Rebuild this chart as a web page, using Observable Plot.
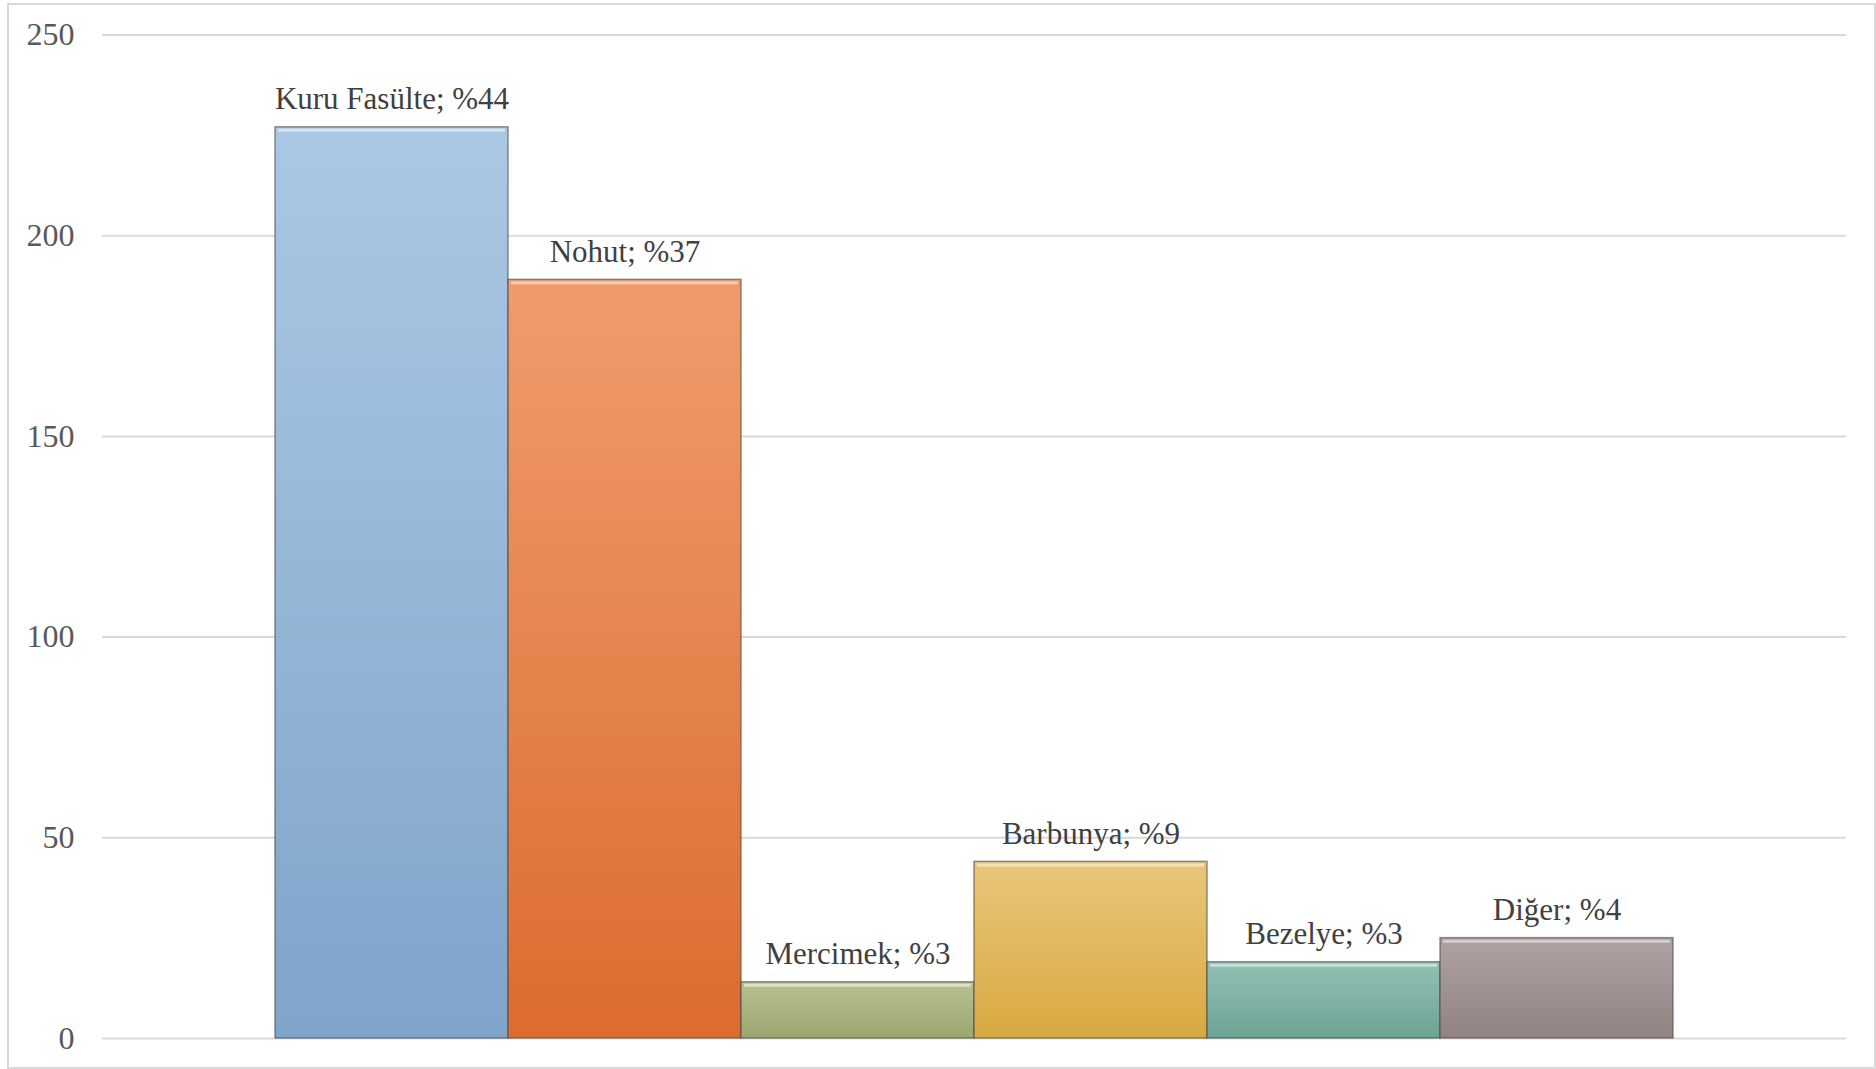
<!DOCTYPE html>
<html><head><meta charset="utf-8">
<script src="https://cdn.jsdelivr.net/npm/d3@7"></script>
<script src="https://cdn.jsdelivr.net/npm/@observablehq/plot@0.6"></script>
<style>
html,body{margin:0;padding:0;background:#fff;}
#wrap{position:relative;width:1876px;height:1069px;overflow:hidden;}
#frame{position:absolute;left:7px;top:3px;width:1869px;height:1066px;border:2px solid #d9d9d9;box-sizing:border-box;pointer-events:none}
</style></head><body><div id="wrap"><div id="chart"></div><div id="frame"></div></div>
<script>
const categories = ["Kuru Fasülte", "Nohut", "Mercimek", "Barbunya", "Bezelye", "Diğer"];
const values = [227, 189, 14, 44, 19, 25];
const percents = [44, 37, 3, 9, 3, 4];
const yTicks = [0, 50, 100, 150, 200, 250];

const gradTop = ["#aac8e4", "#ef9c6c", "#b8c193", "#e9c67b", "#93c0b4", "#afa2a2"];
const gradBottom = ["#7fa4ca", "#dc6b2f", "#9aa670", "#d8a940", "#6ca494", "#928383"];
const highlight = ["#d3e4f3", "#f8c9ab", "#dde2c4", "#f5e2b6", "#c6e0d8", "#d6cece"];

const data = categories.map((c, i) => ({
  category: c,
  value: values[i],
  label: `${c}; %${percents[i]}`,
  fill: `url(#grad${i})`,
  hi: highlight[i]
}));

const chart = Plot.plot({
  width: 1876,
  height: 1069,
  marginTop: 34.5,
  marginBottom: 31,
  marginLeft: 102,
  marginRight: 30,
  style: {fontFamily: "'Liberation Serif', 'Times New Roman', serif", fontSize: "32px", color: "#595959", background: "white"},
  x: {domain: categories, paddingInner: 0, paddingOuter: 0.74, axis: null},
  y: {domain: [0, 250], ticks: yTicks, tickSize: 0, tickPadding: 28, label: null, tickFormat: d => String(d)},
  color: {type: "identity"},
  marks: [
    Plot.ruleY(yTicks, {stroke: "#d9d9d9", strokeWidth: 2}),
    Plot.barY(data, {x: "category", y: "value", fill: "fill", stroke: "#4a4a4a", strokeOpacity: 0.6, strokeWidth: 1.5}),
    Plot.tickY(data, {x: "category", y: "value", stroke: "hi", strokeWidth: 3, dy: 3, inset: 3}),
    Plot.text(data, {x: "category", y: "value", text: "label", lineAnchor: "bottom", dy: -18, fill: "#404040", fontSize: 31})
  ]
});

const defs = d3.select(chart).insert("defs", ":first-child");
categories.forEach((c, i) => {
  const g = defs.append("linearGradient").attr("id", `grad${i}`).attr("x1", 0).attr("y1", 0).attr("x2", 0).attr("y2", 1);
  g.append("stop").attr("offset", "0%").attr("stop-color", gradTop[i]);
  g.append("stop").attr("offset", "100%").attr("stop-color", gradBottom[i]);
});

document.getElementById("chart").appendChild(chart);
</script>
</body></html>
